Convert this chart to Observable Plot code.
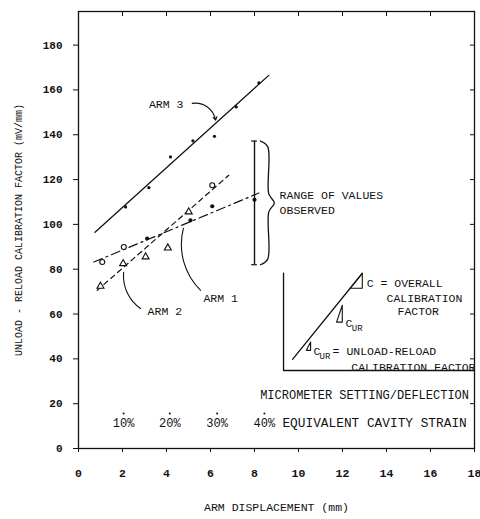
<!DOCTYPE html>
<html><head><meta charset="utf-8">
<script src="https://cdn.jsdelivr.net/npm/d3@7"></script>
<script src="https://cdn.jsdelivr.net/npm/@observablehq/plot@0.6"></script>
<style>body{margin:0;background:#fff}</style>
</head><body><div id="chart"></div>
<script>
// ---- data ----
const xTickValues = [0, 2, 4, 6, 8, 10, 12, 14, 16, 18];
const yTickValues = [0, 20, 40, 60, 80, 100, 120, 140, 160, 180];

const arm3X = [2.14, 3.2, 4.18, 5.2, 6.18, 7.17, 8.2];
const arm3Y = [107.8, 116.4, 130.1, 137.3, 139.3, 152.4, 163.2];
const arm3LineX = [0.75, 8.65];
const arm3LineY = [96.5, 166.5];

const arm1OpenX = [1.08, 2.06];
const arm1OpenY = [83.2, 89.9];
const arm1FilledX = [3.12, 5.09, 6.08, 8.0];
const arm1FilledY = [93.7, 101.8, 108.1, 111];
const arm1LineX = [0.7, 8.2];
const arm1LineY = [83.2, 114];

const arm2X = [1.0, 2.03, 3.05, 4.06, 5.01];
const arm2Y = [72.4, 82.5, 85.5, 89.5, 105.6];
const arm2OtherX = [6.08];
const arm2OtherY = [117.5];
const arm2LineX = [0.85, 6.83];
const arm2LineY = [70.6, 121.9];

const rangeX = 8;
const rangeLow = 82;
const rangeHigh = 137.2;

const strainX = [2.05, 4.15, 6.3, 8.45];
const strainLabels = ["10%", "20%", "30%", "40%"];

// ---- annotations (inset sketch, labels) ----
const insetBoxX = [9.32, 9.32, 18];
const insetBoxY = [78.2, 34.8, 34.8];
const insetLineX = [9.73, 12.9];
const insetLineY = [39.8, 78.2];
const triTopX = [12.35, 12.9, 12.9, 12.35];
const triTopY = [71.5, 71.5, 78.2, 71.5];
const triMidX = [11.99, 11.73, 11.99, 11.99];
const triMidY = [63.9, 56.4, 56.4, 63.9];
const triLowX = [10.55, 10.36, 10.55, 10.55];
const triLowY = [47.5, 43.8, 43.8, 47.5];

const labels = [
  {text: "ARM 3", x: 3.2, y: 154},
  {text: "ARM 1", x: 5.68, y: 67.4},
  {text: "ARM 2", x: 3.14, y: 61.6},
  {text: "RANGE OF VALUES\nOBSERVED", x: 9.14, y: 110},
  {text: "C = OVERALL", x: 13.1, y: 74.1},
  {text: "CALIBRATION", x: 14.0, y: 67.4},
  {text: "FACTOR", x: 14.5, y: 61.6},
  {text: "C", x: 12.14, y: 56.3},
  {text: "C", x: 10.68, y: 43.8},
  {text: "= UNLOAD-RELOAD", x: 11.55, y: 43.8},
  {text: "CALIBRATION FACTOR", x: 12.4, y: 36.6}
];
const subs = [
  {text: "UR", x: 12.42, y: 53.8},
  {text: "UR", x: 10.96, y: 41.3}
];
const leader3 = [{x1: 5.17, y1: 154, x2: 6.23, y2: 146.5}];
const leader1 = [{x1: 4.77, y1: 98.3, x2: 5.55, y2: 70.6}];
const leader2 = [{x1: 2.05, y1: 78.6, x2: 2.82, y2: 62.5}];

const toPts = (xs, ys) => xs.map((x, i) => ({x, y: ys[i]}));

const mid = (rangeLow + rangeHigh) / 2;
const brace = [
  {x: rangeX + 0.27, y: rangeHigh},
  {x: rangeX + 0.6, y: rangeHigh - 2.5},
  {x: rangeX + 0.65, y: mid + 4},
  {x: rangeX + 0.9, y: mid},
  {x: rangeX + 0.65, y: mid - 4},
  {x: rangeX + 0.6, y: rangeLow + 2.5},
  {x: rangeX + 0.27, y: rangeLow}
];

const font = "Liberation Mono, DejaVu Sans Mono, monospace";
const ink = "#111";
const arrowOpts = {x1: "x1", y1: "y1", x2: "x2", y2: "y2", stroke: ink, strokeWidth: 1.1};

const chart = Plot.plot({
  width: 480,
  height: 519,
  marginLeft: 78,
  marginRight: 6,
  marginTop: 11,
  marginBottom: 71,
  style: {fontFamily: font, fontSize: "11.5px", color: ink, background: "#fff"},
  x: {domain: [0, 18]},
  y: {domain: [0, 195]},
  marks: [
    Plot.frame({stroke: ink, strokeWidth: 1.3}),
    Plot.axisX({ticks: xTickValues, tickSize: 4, tickPadding: 16, fontWeight: "bold", fontSize: 11.5, label: null}),
    Plot.axisX({ticks: [], tickSize: 0, label: "ARM DISPLACEMENT (mm)", labelAnchor: "center", labelOffset: 62, labelArrow: "none"}),
    Plot.axisY({ticks: yTickValues, tickSize: 5, tickPadding: 11, fontWeight: "bold", fontSize: 11, label: null}),
    Plot.axisY({ticks: [], tickSize: 0, label: "UNLOAD - RELOAD CALIBRATION FACTOR (mV/mm)", labelAnchor: "center", labelOffset: 64, labelArrow: "none", fontSize: 10}),
    Plot.axisX({anchor: "top", ticks: xTickValues, tickSize: -4, tickFormat: () => "", label: null}),
    Plot.axisY({anchor: "right", ticks: yTickValues, tickSize: -5, tickFormat: () => "", label: null}),

    // ARM 3
    Plot.line(toPts(arm3LineX, arm3LineY), {x: "x", y: "y", stroke: ink, strokeWidth: 1.3}),
    Plot.dot(toPts(arm3X, arm3Y), {x: "x", y: "y", r: 1.6, fill: ink}),
    // ARM 1
    Plot.line(toPts(arm1LineX, arm1LineY), {x: "x", y: "y", stroke: ink, strokeWidth: 1.2, strokeDasharray: "9,4,2,4"}),
    Plot.dot(toPts(arm1OpenX, arm1OpenY), {x: "x", y: "y", r: 2.5, stroke: ink, fill: "#fff", strokeWidth: 1.1}),
    Plot.dot(toPts(arm1FilledX, arm1FilledY), {x: "x", y: "y", r: 2.1, fill: ink}),
    // ARM 2
    Plot.line(toPts(arm2LineX, arm2LineY), {x: "x", y: "y", stroke: ink, strokeWidth: 1.2, strokeDasharray: "5,4"}),
    Plot.dot(toPts(arm2X, arm2Y), {x: "x", y: "y", symbol: "triangle", r: 2.6, stroke: ink, fill: "#fff", strokeWidth: 1.1}),
    Plot.dot(toPts(arm2OtherX, arm2OtherY), {x: "x", y: "y", r: 2.5, stroke: ink, fill: "#fff", strokeWidth: 1.1}),

    // range of values
    Plot.ruleX([rangeX], {y1: rangeLow, y2: rangeHigh, stroke: ink, strokeWidth: 1.4}),
    Plot.ruleY([rangeLow, rangeHigh], {y: d => d, x1: rangeX - 0.13, x2: rangeX + 0.13, stroke: ink, strokeWidth: 1.2}),
    Plot.line(brace, {x: "x", y: "y", curve: "catmull-rom", stroke: ink, strokeWidth: 1.3}),

    // leaders
    Plot.arrow(leader3, {...arrowOpts, bend: 45, headLength: 5}),
    Plot.arrow(leader1, {...arrowOpts, bend: -30, headLength: 0}),
    Plot.arrow(leader2, {...arrowOpts, bend: -30, headLength: 0}),

    // inset sketch
    Plot.line(toPts(insetBoxX, insetBoxY), {x: "x", y: "y", stroke: ink, strokeWidth: 1.3}),
    Plot.line(toPts(insetLineX, insetLineY), {x: "x", y: "y", stroke: ink, strokeWidth: 1.3}),
    Plot.line(toPts(triTopX, triTopY), {x: "x", y: "y", stroke: ink, strokeWidth: 1.1}),
    Plot.line(toPts(triMidX, triMidY), {x: "x", y: "y", stroke: ink, strokeWidth: 1.1}),
    Plot.line(toPts(triLowX, triLowY), {x: "x", y: "y", stroke: ink, strokeWidth: 1.1}),

    // micrometer / strain scale
    Plot.text(["MICROMETER SETTING/DEFLECTION"], {x: 17.75, y: 23.7, textAnchor: "end", fill: ink, fontSize: 12}),
    Plot.dot(strainX, {x: d => d, y: 15.6, r: 1, fill: ink}),
    Plot.text(strainLabels, {x: (d, i) => strainX[i], y: 11.4, fill: ink, fontSize: 12}),
    Plot.text(["EQUIVALENT CAVITY STRAIN"], {x: 9.27, y: 11.4, textAnchor: "start", fill: ink, fontSize: 12.8, clip: true}),

    // labels
    Plot.text(labels, {x: "x", y: "y", text: "text", textAnchor: "start", fill: ink, lineHeight: 1.25, clip: true}),
    Plot.text(subs, {x: "x", y: "y", text: "text", textAnchor: "start", fill: ink, fontSize: 9})
  ]
});
document.getElementById("chart").appendChild(chart);
</script>
</body></html>
